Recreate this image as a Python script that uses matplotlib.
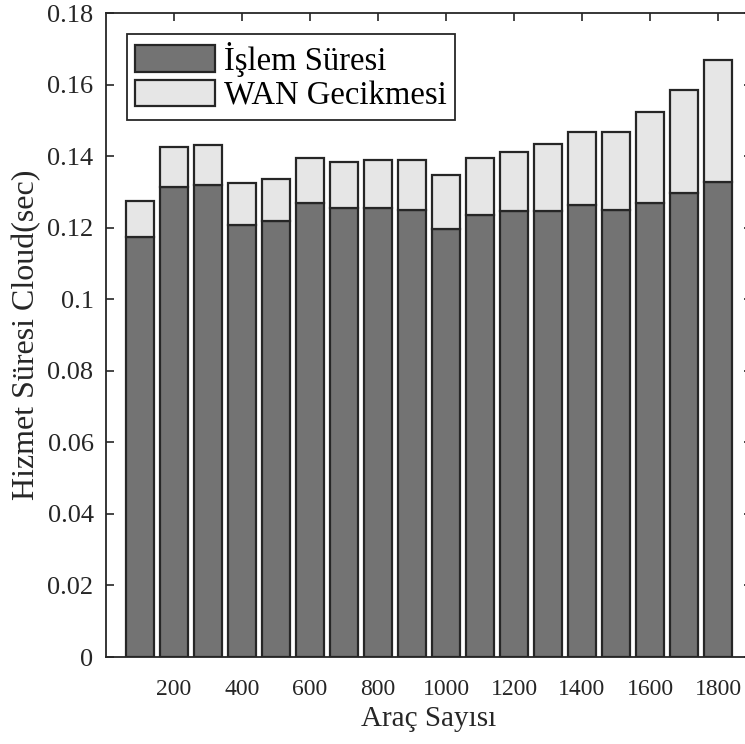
import numpy as np
import matplotlib
matplotlib.use("Agg")
import matplotlib.pyplot as plt
from matplotlib.ticker import FuncFormatter

# data
arac_sayisi = [100, 200, 300, 400, 500, 600, 700, 800, 900,
               1000, 1100, 1200, 1300, 1400, 1500, 1600, 1700, 1800]
islem_suresi = [0.1173, 0.1314, 0.1319, 0.1207, 0.1219, 0.1269, 0.1256, 0.1256, 0.1250,
                0.1195, 0.1235, 0.1246, 0.1246, 0.1263, 0.1250, 0.1268, 0.1297, 0.1328]
toplam = [0.1274, 0.1426, 0.1431, 0.1325, 0.1335, 0.1396, 0.1384, 0.1390, 0.1389,
          0.1347, 0.1396, 0.1412, 0.1435, 0.1468, 0.1468, 0.1524, 0.1586, 0.1670]
wan_gecikmesi = [t - b for t, b in zip(toplam, islem_suresi)]

xtick_vals = [200, 400, 600, 800, 1000, 1200, 1400, 1600, 1800]
ytick_vals = [0, 0.02, 0.04, 0.06, 0.08, 0.1, 0.12, 0.14, 0.16, 0.18]

plt.rcParams['font.family'] = ['Liberation Serif', 'DejaVu Serif']

fig = plt.figure(figsize=(7.45, 7.44), dpi=100)
ax = fig.add_axes([0.1423, 0.1169, 0.8671, 0.8656])

edge = '#262626'
ax.bar(arac_sayisi, islem_suresi, width=80, color='#737373', edgecolor=edge,
       linewidth=1.6, label='İşlem Süresi', zorder=3)
ax.bar(arac_sayisi, wan_gecikmesi, width=80, bottom=islem_suresi, color='#e6e6e6',
       edgecolor=edge, linewidth=1.6, label='WAN Gecikmesi', zorder=3)

ax.set_xlim(0, 1900)
ax.set_ylim(0, 0.18)
ax.set_xticks(xtick_vals)
ax.set_yticks(ytick_vals)
ax.yaxis.set_major_formatter(FuncFormatter(lambda v, p: '%g' % v))

ax.tick_params(direction='in', top=True, right=True, length=6, width=1.2,
               color=edge, labelcolor='#262626')
ax.tick_params(axis='x', pad=16, labelsize=17)
ax.tick_params(axis='y', pad=9, labelsize=19)
for s in ax.spines.values():
    s.set_color(edge)
    s.set_linewidth(1.3)

ax.set_xlabel('Araç Sayısı', fontsize=21, color='#262626', labelpad=4)
ax.set_ylabel('Hizmet Süresi Cloud(sec)', fontsize=23, color='#262626', labelpad=4)

leg = ax.legend(loc='upper left', bbox_to_anchor=(0.033, 0.968), fontsize=23.5,
                handlelength=2.45, handleheight=0.85, handletextpad=0.25,
                labelspacing=0.1, borderpad=0.25, borderaxespad=0,
                fancybox=False, framealpha=1)
leg.get_frame().set_edgecolor(edge)
leg.get_frame().set_linewidth(1.3)
leg.set_zorder(5)

fig.savefig('out.png', dpi=100)
